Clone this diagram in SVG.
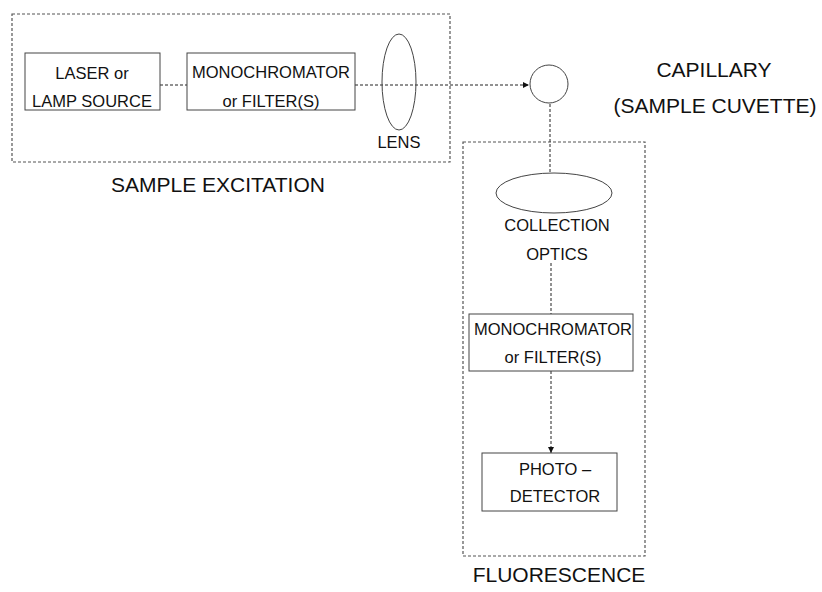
<svg xmlns="http://www.w3.org/2000/svg" width="822" height="592" viewBox="0 0 822 592">
<style>
.bg{fill:#fff}
.grp{fill:none;stroke:#555;stroke-width:1.2;stroke-dasharray:3 2}
.box{fill:#fff;stroke:#444;stroke-width:1}
.opt{fill:none;stroke:#444;stroke-width:1}
.con{fill:none;stroke:#222;stroke-width:1;stroke-dasharray:3 2}
text{font-family:"Liberation Sans",Arial,sans-serif;fill:#111;text-anchor:middle}
.s{font-size:16.5px}
.l{font-size:21px}
</style>
<defs>
<marker id="ah" viewBox="0 0 10 10" refX="10" refY="5" markerWidth="6" markerHeight="6" markerUnits="userSpaceOnUse" orient="auto">
<path d="M0,0 L10,5 L0,10 z" fill="#111"/>
</marker>
</defs>
<rect class="bg" width="822" height="592"/>
<g id="sample-excitation">
<rect class="grp" x="12" y="14" width="438" height="148"/>
<text class="l" x="218" y="192">SAMPLE EXCITATION</text>
</g>
<g id="fluorescence">
<rect class="grp" x="463" y="142" width="182" height="414"/>
<text class="l" x="559" y="582">FLUORESCENCE</text>
</g>
<g id="connectors">
<line class="con" x1="160" y1="85" x2="187" y2="85"/>
<line class="con" x1="355" y1="85" x2="529" y2="85" marker-end="url(#ah)"/>
<line class="con" x1="550" y1="104" x2="550" y2="173"/>
<line class="con" x1="551" y1="263" x2="551" y2="314"/>
<line class="con" x1="551" y1="371" x2="551" y2="453" marker-end="url(#ah)"/>
</g>
<g id="laser">
<rect class="box" x="25" y="53" width="135" height="57"/>
<text class="s" x="92" y="79">LASER or</text>
<text class="s" x="92" y="107">LAMP SOURCE</text>
</g>
<g id="mono1">
<rect class="box" x="187" y="53" width="168" height="57"/>
<text class="s" x="271" y="78">MONOCHROMATOR</text>
<text class="s" x="271" y="107">or FILTER(S)</text>
</g>
<g id="lens">
<ellipse class="opt" cx="399" cy="82" rx="17" ry="48"/>
<text class="s" x="399" y="148">LENS</text>
</g>
<g id="capillary">
<circle class="opt" cx="549" cy="84" r="19" fill="#fff"/>
<text class="l" x="714" y="77">CAPILLARY</text>
<text class="l" x="715" y="113">(SAMPLE CUVETTE)</text>
</g>
<g id="collection">
<ellipse class="opt" cx="554" cy="193" rx="58" ry="20"/>
<text class="s" x="557" y="231">COLLECTION</text>
<text class="s" x="557" y="260">OPTICS</text>
</g>
<g id="mono2">
<rect class="box" x="469" y="314" width="164" height="57"/>
<text class="s" x="553" y="335">MONOCHROMATOR</text>
<text class="s" x="553" y="363">or FILTER(S)</text>
</g>
<g id="photodetector">
<rect class="box" x="482" y="453" width="135" height="58"/>
<text class="s" x="555" y="475">PHOTO –</text>
<text class="s" x="555" y="502">DETECTOR</text>
</g>
</svg>
